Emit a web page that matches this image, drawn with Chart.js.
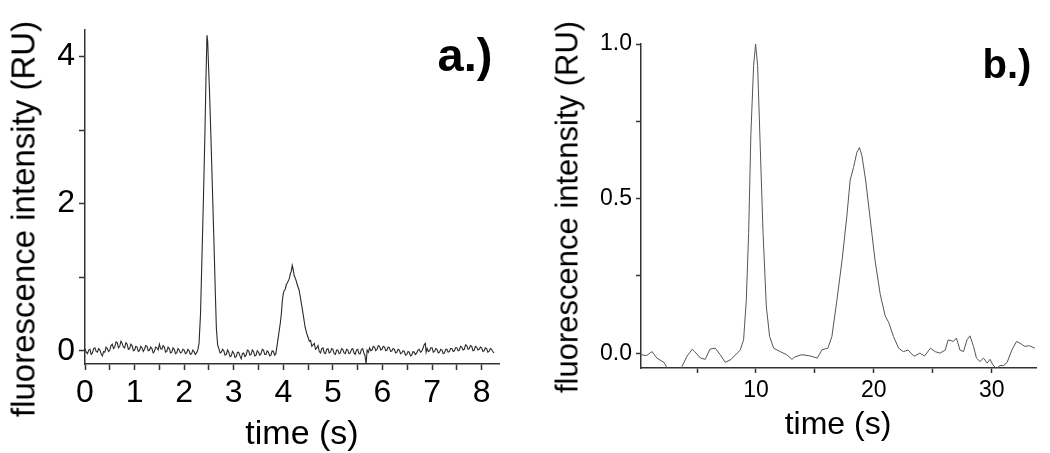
<!DOCTYPE html>
<html>
<head>
<meta charset="utf-8">
<script src="https://cdn.jsdelivr.net/npm/chart.js@4.4.1/dist/chart.umd.min.js"></script>
<style>
  html, body { margin: 0; padding: 0; background: #fff; }
  #wrap { position: relative; width: 1050px; height: 453px; overflow: hidden; font-family: "Liberation Sans", Arial, sans-serif; color: #000; }
  canvas { position: absolute; top: 0; }
  #chartA { left: 0; }
  #chartB { left: 520px; }
  .lbl { position: absolute; white-space: nowrap; line-height: 1; transform: translate(-50%, -50%); }
  .rot { transform: translate(-50%, -50%) rotate(-90deg); }
  .panel { font-weight: bold; }
</style>
</head>
<body>
<div id="wrap">
  <canvas id="chartA" width="520" height="453"></canvas>
  <canvas id="chartB" width="530" height="453"></canvas>
  <div class="lbl rot" style="left:23px; top:219px; font-size:33px;">fluorescence intensity (RU)</div>
  <div class="lbl" style="left:302px; top:432px; font-size:34px;">time (s)</div>
  <div class="lbl panel" style="left:465px; top:54px; font-size:47px;">a.)</div>
  <div class="lbl rot" style="left:567px; top:207px; font-size:31px;">fluorescence intensity (RU)</div>
  <div class="lbl" style="left:838px; top:423px; font-size:32px;">time (s)</div>
  <div class="lbl panel" style="left:1007px; top:64px; font-size:40px;">b.)</div>
</div>
<script>
// panel a: fast separation trace (time in s, intensity in RU)
const timeA = [
  0.000, 0.025, 0.050, 0.075, 0.100, 0.125, 0.150, 0.175, 0.200, 0.225,
  0.250, 0.275, 0.300, 0.325, 0.350, 0.375, 0.400, 0.425, 0.450, 0.475,
  0.500, 0.525, 0.550, 0.575, 0.600, 0.625, 0.650, 0.675, 0.700, 0.725,
  0.750, 0.775, 0.800, 0.825, 0.850, 0.875, 0.900, 0.925, 0.950, 0.975,
  1.000, 1.025, 1.050, 1.075, 1.100, 1.125, 1.150, 1.175, 1.200, 1.225,
  1.250, 1.275, 1.300, 1.325, 1.350, 1.375, 1.400, 1.425, 1.450, 1.475,
  1.500, 1.525, 1.550, 1.575, 1.600, 1.625, 1.650, 1.675, 1.700, 1.725,
  1.750, 1.775, 1.800, 1.825, 1.850, 1.875, 1.900, 1.925, 1.950, 1.975,
  2.000, 2.025, 2.050, 2.075, 2.100, 2.125, 2.150, 2.175, 2.200, 2.225,
  2.250, 2.275, 2.300, 2.330, 2.360, 2.390, 2.420, 2.440, 2.460, 2.475,
  2.490, 2.510, 2.540, 2.570, 2.600, 2.630, 2.650, 2.675, 2.700, 2.725,
  2.750, 2.775, 2.800, 2.825, 2.850, 2.875, 2.900, 2.925, 2.950, 2.975,
  3.000, 3.025, 3.050, 3.075, 3.100, 3.125, 3.150, 3.175, 3.200, 3.225,
  3.250, 3.275, 3.300, 3.325, 3.350, 3.375, 3.400, 3.425, 3.450, 3.475,
  3.500, 3.525, 3.550, 3.575, 3.600, 3.625, 3.650, 3.675, 3.700, 3.725,
  3.750, 3.775, 3.800, 3.825, 3.850, 3.880, 3.910, 3.940, 3.960, 3.980,
  4.000, 4.020, 4.040, 4.060, 4.080, 4.100, 4.120, 4.140, 4.160, 4.180,
  4.200, 4.220, 4.240, 4.260, 4.280, 4.300, 4.320, 4.350, 4.380, 4.410,
  4.440, 4.470, 4.500, 4.525, 4.550, 4.575, 4.600, 4.625, 4.650, 4.675,
  4.700, 4.725, 4.750, 4.775, 4.800, 4.825, 4.850, 4.875, 4.900, 4.925,
  4.950, 4.975, 5.000, 5.025, 5.050, 5.075, 5.100, 5.125, 5.150, 5.175,
  5.200, 5.225, 5.250, 5.275, 5.300, 5.325, 5.350, 5.375, 5.400, 5.425,
  5.450, 5.475, 5.500, 5.525, 5.550, 5.575, 5.600, 5.625, 5.645, 5.670,
  5.690, 5.715, 5.740, 5.765, 5.790, 5.815, 5.840, 5.865, 5.890, 5.915,
  5.940, 5.965, 5.990, 6.015, 6.040, 6.065, 6.090, 6.115, 6.140, 6.165,
  6.190, 6.215, 6.240, 6.265, 6.290, 6.315, 6.340, 6.365, 6.390, 6.415,
  6.440, 6.465, 6.490, 6.515, 6.540, 6.565, 6.590, 6.615, 6.640, 6.665,
  6.690, 6.715, 6.740, 6.765, 6.790, 6.815, 6.840, 6.865, 6.880, 6.900,
  6.925, 6.950, 6.975, 7.000, 7.025, 7.050, 7.075, 7.100, 7.125, 7.150,
  7.175, 7.200, 7.225, 7.250, 7.275, 7.300, 7.325, 7.350, 7.375, 7.400,
  7.425, 7.450, 7.475, 7.500, 7.525, 7.550, 7.575, 7.600, 7.625, 7.650,
  7.675, 7.700, 7.725, 7.750, 7.775, 7.800, 7.825, 7.850, 7.875, 7.900,
  7.925, 7.950, 7.975, 8.000, 8.025, 8.050, 8.075, 8.100, 8.125, 8.150,
  8.175, 8.200, 8.225, 8.250
];
const signalA = [
  0.03, -0.02, -0.04, 0.01, 0.02, -0.05, -0.03, 0.03, 0.04, -0.01,
  -0.02, 0.03, 0.01, -0.04, -0.07, -0.01, -0.02, 0.05, 0.03, -0.01,
  0.01, 0.07, 0.09, 0.03, 0.05, 0.12, 0.11, 0.04, 0.06, 0.13,
  0.10, 0.05, 0.04, 0.11, 0.09, 0.02, 0.03, 0.09, 0.07, 0.00,
  0.01, 0.06, 0.05, -0.01, 0.00, 0.06, 0.04, -0.01, 0.02, 0.07,
  0.06, 0.00, 0.01, 0.05, 0.03, -0.03, -0.01, 0.05, 0.04, 0.01,
  0.09, 0.03, 0.02, 0.07, 0.05, -0.02, -0.01, 0.05, 0.03, -0.03,
  -0.02, 0.04, 0.02, -0.04, -0.03, 0.03, 0.01, -0.03, -0.02, 0.02,
  0.01, -0.04, -0.03, 0.02, 0.00, -0.05, -0.04, 0.01, -0.01, -0.05,
  -0.03, 0.01, 0.10, 0.50, 1.30, 2.10, 3.00, 3.70, 4.29, 4.20,
  3.90, 3.55, 2.90, 2.20, 1.50, 0.75, 0.30, 0.08, 0.03, -0.03,
  -0.02, 0.02, 0.00, -0.06, -0.05, 0.01, -0.02, -0.08, -0.07, -0.01,
  -0.03, -0.09, -0.08, -0.02, -0.02, -0.07, -0.11, -0.04, -0.03, -0.08,
  -0.06, 0.01, 0.00, -0.06, -0.05, 0.01, -0.01, -0.07, -0.06, 0.00,
  -0.02, -0.06, -0.04, 0.02, 0.01, -0.05, -0.05, 0.00, -0.02, -0.07,
  -0.06, 0.00, -0.01, -0.06, -0.04, 0.10, 0.24, 0.38, 0.50, 0.68,
  0.78, 0.82, 0.84, 0.90, 0.92, 0.95, 0.98, 1.04, 1.08, 1.16,
  1.10, 1.02, 0.99, 0.95, 0.90, 0.86, 0.82, 0.70, 0.58, 0.45,
  0.32, 0.24, 0.18, 0.13, 0.14, 0.06, 0.08, 0.10, 0.02, 0.04,
  0.07, -0.01, -0.03, 0.03, 0.04, -0.03, -0.04, 0.02, 0.03, -0.03,
  -0.02, 0.03, 0.02, -0.04, -0.05, 0.01, 0.01, -0.04, -0.03, 0.03,
  0.02, -0.03, -0.04, 0.02, 0.01, -0.04, -0.03, 0.02, 0.03, -0.03,
  -0.05, 0.01, 0.02, -0.04, -0.04, 0.02, 0.03, -0.03, -0.06, -0.18,
  0.01, -0.02, 0.04, 0.00, 0.01, 0.06, 0.05, 0.00, 0.02, 0.07,
  0.06, 0.01, 0.02, 0.06, 0.05, 0.00, 0.01, 0.05, 0.04, -0.01,
  0.00, 0.03, 0.02, -0.03, -0.02, 0.02, 0.01, -0.04, -0.03, 0.00,
  -0.01, -0.06, -0.05, -0.01, -0.02, -0.07, -0.06, -0.01, -0.02, -0.05,
  -0.03, 0.01, 0.02, -0.02, -0.01, 0.03, 0.08, 0.10, -0.02, 0.03,
  -0.01, 0.00, 0.04, 0.04, -0.02, -0.01, 0.03, 0.02, -0.03, -0.02,
  0.02, 0.01, -0.04, -0.03, 0.02, 0.02, -0.02, -0.01, 0.03, 0.03,
  -0.01, 0.00, 0.04, 0.04, 0.00, 0.01, 0.06, 0.05, 0.01, 0.02,
  0.08, 0.07, 0.02, 0.03, 0.07, 0.06, 0.00, 0.01, 0.06, 0.05,
  0.01, 0.02, 0.05, 0.04, -0.01, 0.00, 0.04, 0.03, -0.02, -0.01,
  0.03, 0.02, -0.01, -0.03
];

// panel b: slower separation trace
const timeB = [
  0.26, 0.7, 1.19, 1.6, 2.2, 2.5, 3.0, 3.5, 3.73, 4.15,
  4.6, 4.8, 5.3, 5.7, 6.1, 6.55, 6.97, 7.4, 7.9, 8.4,
  8.67, 8.95, 9.18, 9.38, 9.57, 9.8, 9.97, 10.14, 10.37, 10.6,
  10.88, 11.16, 11.5, 12.06, 12.6, 13.05, 13.3, 13.9, 14.6, 15.2,
  15.6, 16.1, 16.44, 16.86, 17.3, 17.7, 17.99, 18.27, 18.56, 18.78,
  18.98, 19.3, 19.7, 20.1, 20.54, 20.96, 21.25, 21.66, 22.1, 22.5,
  22.9, 23.4, 23.9, 24.3, 24.8, 25.2, 25.6, 26.05, 26.3, 26.75,
  27.0, 27.3, 27.6, 27.9, 28.15, 28.45, 28.7, 29.0, 29.3, 29.6,
  29.85, 30.1, 30.4, 30.7, 31.0, 31.3, 31.7, 32.1, 32.4, 32.8,
  33.2, 33.65
];
const signalB = [
  -0.005, -0.008, 0.005, -0.016, -0.03, -0.05, -0.07, -0.065, -0.043, -0.01,
  0.013, 0.005, -0.016, -0.02, 0.013, 0.016, -0.005, -0.03, -0.02, 0.0,
  0.01, 0.043, 0.17, 0.39, 0.71, 0.93, 1.0, 0.93, 0.66, 0.39,
  0.15, 0.054, 0.016, 0.005, -0.005, -0.02, -0.012, -0.005, -0.009, -0.016,
  0.011, 0.016, 0.054, 0.17, 0.30, 0.44, 0.56, 0.60, 0.65, 0.665,
  0.64, 0.56, 0.43, 0.30, 0.19, 0.12, 0.10, 0.054, 0.016, 0.005,
  0.01, -0.01, 0.0, -0.009, 0.016, 0.005, 0.0, 0.01, 0.043, 0.038,
  0.049, 0.01, 0.005, 0.043, 0.056, 0.022, -0.016, -0.027, -0.016, -0.032,
  -0.02, -0.038, -0.05, -0.04, -0.04, -0.03, 0.01, 0.038, 0.032, 0.022,
  0.024, 0.016
];

const axisColor = '#333';

function toPoints(xs, ys) {
  return xs.map((x, i) => ({ x: x, y: ys[i] }));
}

function axis(min, max, step, fontSize, tickLen, labelFn, fitFn) {
  return {
    type: 'linear',
    min: min,
    max: max,
    grid: { display: true, drawOnChartArea: false, drawTicks: true, tickLength: tickLen, tickColor: axisColor, tickWidth: 1.5 },
    border: { display: true, color: axisColor, width: 1.5 },
    ticks: {
      stepSize: step,
      includeBounds: false,
      autoSkip: false,
      maxRotation: 0,
      padding: 4,
      color: '#000',
      font: { family: '"Liberation Sans", Arial, sans-serif', size: fontSize },
      callback: labelFn
    },
    afterFit: fitFn
  };
}

new Chart(document.getElementById('chartA'), {
  type: 'line',
  data: {
    datasets: [{
      data: toPoints(timeA, signalA),
      borderColor: '#2a2a2a',
      borderWidth: 1.1,
      pointRadius: 0,
      tension: 0
    }]
  },
  options: {
    responsive: false,
    animation: false,
    layout: { padding: { left: 0, top: 30, right: 21, bottom: 0 } },
    plugins: { legend: { display: false }, tooltip: { enabled: false } },
    scales: {
      x: axis(0, 8.35, 0.5, 32, 6,
        v => (v % 1 === 0 ? String(v) : ''),
        s => { s.height = 89; }),
      y: axis(-0.18, 4.36, 1, 32, 6,
        v => (v % 2 === 0 ? String(v) : ''),
        s => { s.width = 85; })
    }
  }
});

new Chart(document.getElementById('chartB'), {
  type: 'line',
  data: {
    datasets: [{
      data: toPoints(timeB, signalB),
      borderColor: '#555',
      borderWidth: 1,
      pointRadius: 0,
      tension: 0
    }]
  },
  options: {
    responsive: false,
    animation: false,
    layout: { padding: { left: 0, top: 44, right: 14, bottom: 0 } },
    plugins: { legend: { display: false }, tooltip: { enabled: false } },
    scales: {
      x: axis(0.25, 33.75, 5, 23, 5,
        v => (v % 10 === 0 ? String(v) : ''),
        s => { s.height = 85; }),
      y: axis(-0.048, 1.0, 0.25, 23, 5,
        v => (Math.abs(v * 2 - Math.round(v * 2)) < 1e-9 ? v.toFixed(1) : ''),
        s => { s.width = 121; })
    }
  }
});
</script>
</body>
</html>
